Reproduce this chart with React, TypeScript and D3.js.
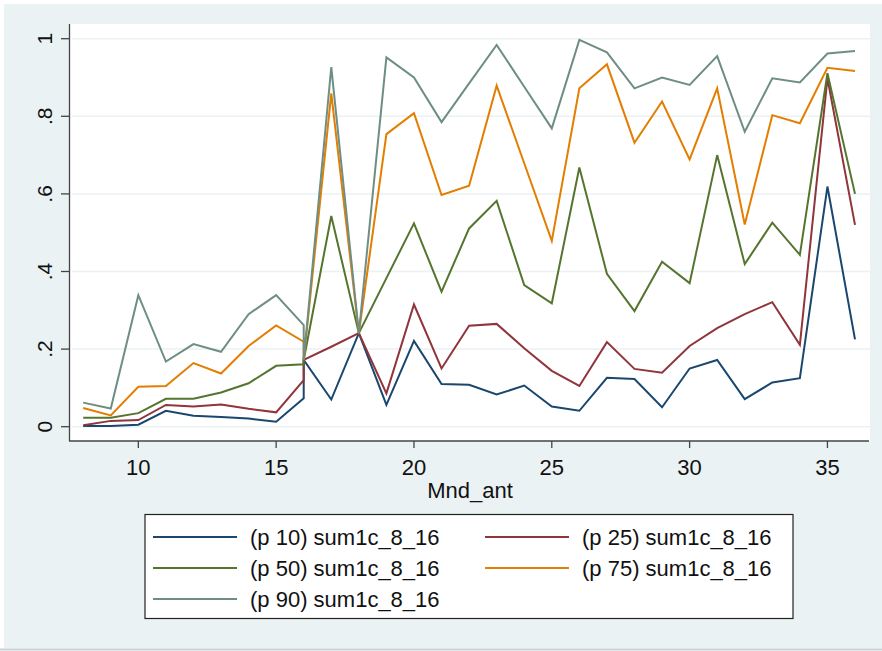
import React from "react";
import * as d3 from "d3";

const xs = [8, 9, 10, 11, 12, 13, 14, 15, 16, 16, 17, 18, 19, 20, 21, 22, 23, 24, 25, 26, 27, 28, 29, 30, 31, 32, 33, 34, 35, 36];
const p10 = [0.002, 0.002, 0.005, 0.041, 0.028, 0.025, 0.021, 0.013, 0.073, 0.172, 0.070, 0.241, 0.056, 0.221, 0.110, 0.108, 0.083, 0.106, 0.052, 0.041, 0.126, 0.123, 0.050, 0.150, 0.172, 0.071, 0.114, 0.125, 0.619, 0.225];
const p25 = [0.004, 0.015, 0.017, 0.056, 0.052, 0.057, 0.046, 0.037, 0.120, 0.172, 0.206, 0.241, 0.086, 0.315, 0.150, 0.260, 0.265, 0.202, 0.144, 0.105, 0.218, 0.149, 0.139, 0.208, 0.254, 0.290, 0.321, 0.211, 0.898, 0.520];
const p50 = [0.023, 0.023, 0.035, 0.072, 0.072, 0.088, 0.112, 0.157, 0.161, 0.172, 0.543, 0.241, 0.383, 0.524, 0.348, 0.511, 0.582, 0.365, 0.318, 0.668, 0.394, 0.298, 0.425, 0.370, 0.700, 0.419, 0.526, 0.443, 0.911, 0.600];
const p75 = [0.048, 0.029, 0.103, 0.105, 0.164, 0.137, 0.208, 0.261, 0.219, 0.172, 0.859, 0.241, 0.754, 0.808, 0.597, 0.621, 0.879, 0.679, 0.479, 0.872, 0.934, 0.732, 0.838, 0.689, 0.872, 0.521, 0.803, 0.782, 0.925, 0.917];
const p90 = [0.062, 0.047, 0.339, 0.168, 0.213, 0.193, 0.290, 0.339, 0.262, 0.172, 0.927, 0.241, 0.952, 0.900, 0.785, 0.885, 0.984, 0.876, 0.769, 0.997, 0.965, 0.872, 0.900, 0.881, 0.955, 0.760, 0.898, 0.887, 0.962, 0.968];

const seriesNames = ["(p 10) sum1c_8_16", "(p 25) sum1c_8_16", "(p 50) sum1c_8_16", "(p 75) sum1c_8_16", "(p 90) sum1c_8_16"];
const seriesValues = [p10, p25, p50, p75, p90];
const colors = ["#1a476f", "#90353b", "#55752f", "#e37e00", "#6e8e84"];

const xTicks = [10, 15, 20, 25, 30, 35];
const yTicks = [0, 0.2, 0.4, 0.6, 0.8, 1];
const yTickLabels = ["0", ".2", ".4", ".6", ".8", "1"];
const xTitle = "Mnd_ant";

const W = 882, H = 651;
const font = "'Liberation Sans', Arial, sans-serif";

export default function App() {
  const plotL = 70, plotR = 870, plotT = 24, plotB = 441;
  const x = d3.scaleLinear().domain([8, 36]).range([83.2, 855]);
  const y = d3.scaleLinear().domain([0, 1]).range([426.7, 38.7]);
  const line = d3.line<number>().x((_, i) => x(xs[i])).y((d) => y(d));

  const legendRows = [
    { i: 0, col: 0, row: 0 }, { i: 1, col: 1, row: 0 },
    { i: 2, col: 0, row: 1 }, { i: 3, col: 1, row: 1 },
    { i: 4, col: 0, row: 2 },
  ];
  const colX = [153, 485];
  const rowY = [537, 568, 599];

  return (
    <svg width={W} height={H} style={{ position: "absolute", left: 0, top: 0, display: "block" }}>
      <rect x={0} y={0} width={W} height={H} fill="#ffffff" />
      <rect x={4} y={4} width={W - 4} height={644} fill="#eaf2f3" />
      <line x1={0} x2={W} y1={649.5} y2={649.5} stroke="#c9d0d3" strokeWidth={2} />
      <rect x={plotL} y={plotT} width={plotR - plotL} height={plotB - plotT} fill="#ffffff" />
      {yTicks.map((t) => (
        <line key={"g" + t} x1={plotL + 2} x2={plotR} y1={y(t)} y2={y(t)} stroke="#eaf2f3" strokeWidth={1.5} />
      ))}
      {seriesValues.map((vals, k) => (
        <path key={k} d={line(vals) || ""} fill="none" stroke={colors[k]} strokeWidth={2} strokeLinejoin="miter" />
      ))}
      <line x1={69.5} x2={69.5} y1={plotT} y2={plotB} stroke="#444" strokeWidth={1.3} />
      <line x1={69} x2={869} y1={plotB} y2={plotB} stroke="#444" strokeWidth={1.3} />
      {yTicks.map((t, i) => (
        <g key={"yt" + t}>
          <line x1={61} x2={69} y1={y(t)} y2={y(t)} stroke="#444" strokeWidth={1.3} />
          <text transform={`translate(52,${y(t)}) rotate(-90)`} textAnchor="middle" fontFamily={font} fontSize={21} fill="#111">
            {yTickLabels[i]}
          </text>
        </g>
      ))}
      {xTicks.map((t) => (
        <g key={"xt" + t}>
          <line x1={x(t)} x2={x(t)} y1={plotB} y2={plotB + 7} stroke="#444" strokeWidth={1.3} />
          <text x={x(t)} y={475} textAnchor="middle" fontFamily={font} fontSize={22} fill="#111">{t}</text>
        </g>
      ))}
      <text x={(plotL + plotR) / 2} y={498} textAnchor="middle" fontFamily={font} fontSize={22} fill="#111">{xTitle}</text>
      <rect x={145} y={514.5} width={648} height={104} fill="#ffffff" stroke="#222" strokeWidth={1.2} />
      {legendRows.map(({ i, col, row }) => (
        <g key={"lg" + i}>
          <line x1={colX[col]} x2={colX[col] + 84} y1={rowY[row]} y2={rowY[row]} stroke={colors[i]} strokeWidth={2} />
          <text x={colX[col] + 97} y={rowY[row] + 7.5} fontFamily={font} fontSize={22} fill="#111">{seriesNames[i]}</text>
        </g>
      ))}
    </svg>
  );
}
